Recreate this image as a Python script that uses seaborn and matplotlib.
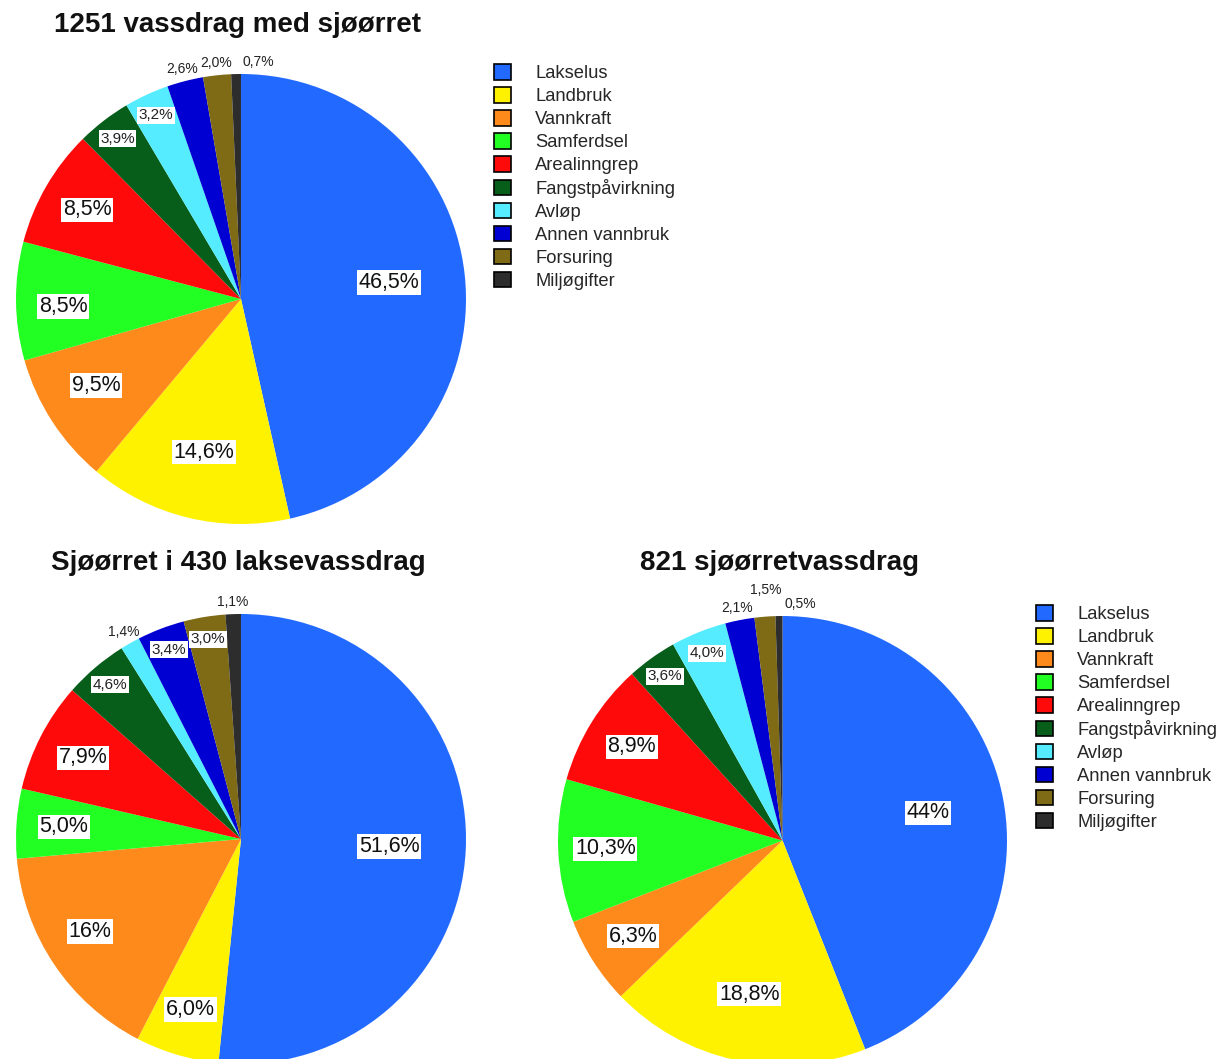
import numpy as np
import seaborn as sns
import matplotlib.pyplot as plt
from matplotlib.patches import Patch

categories = ["Lakselus", "Landbruk", "Vannkraft", "Samferdsel", "Arealinngrep",
              "Fangstpåvirkning", "Avløp", "Annen vannbruk", "Forsuring", "Miljøgifter"]

# percent shares per chart, in category order
all_values = [46.5, 14.6, 9.5, 8.5, 8.5, 3.9, 3.2, 2.6, 2.0, 0.7]
laks_values = [51.6, 6.0, 16.0, 5.0, 7.9, 4.6, 1.4, 3.4, 3.0, 1.1]
sjo_values = [44.0, 18.8, 6.3, 10.3, 8.9, 3.6, 4.0, 2.1, 1.5, 0.5]

all_labels = ["46,5%", "14,6%", "9,5%", "8,5%", "8,5%", "3,9%", "3,2%", "2,6%", "2,0%", "0,7%"]
laks_labels = ["51,6%", "6,0%", "16%", "5,0%", "7,9%", "4,6%", "1,4%", "3,4%", "3,0%", "1,1%"]
sjo_labels = ["44%", "18,8%", "6,3%", "10,3%", "8,9%", "3,6%", "4,0%", "2,1%", "1,5%", "0,5%"]

titles = ["1251 vassdrag med sjøørret", "Sjøørret i 430 laksevassdrag", "821 sjøørretvassdrag"]

colors = ["#226aff", "#fff200", "#ff8a1c", "#22ff22", "#ff0a0a",
          "#065e1a", "#55ecff", "#0000d2", "#7f6a16", "#2d2d2d"]

sns.set_style("white")
plt.rcParams['font.family'] = ['Liberation Sans', 'DejaVu Sans']

W, H = 1218, 1059
fig = plt.figure(figsize=(W / 100, H / 100), dpi=100)
fig.patch.set_facecolor("white")

# pie layout in pixels: centre x, centre y, radius, title x, title y
layout = [
    (241, 299, 225, 238, 25),
    (241, 839, 225, 238, 563),
    (782.5, 840.5, 224.5, 779, 563),
]

# small label tweaks (pixels, +x right, +y down) where Excel moved labels apart
nudges = {
    (0, "Miljøgifter"): (23, 0),
    (0, "Vannkraft"): (4, -10),
    (0, "Samferdsel"): (0, 6),
    (1, "Vannkraft"): (-20, 5),
    (2, "Miljøgifter"): (22, 0),
    (2, "Forsuring"): (2, -14),
}


def label_radius(pct):
    if pct < 3:
        return 1.055
    if pct < 5:
        return 0.90
    if pct < 12:
        return 0.79
    if pct < 40:
        return 0.70
    return 0.66


datasets = [(all_values, all_labels), (laks_values, laks_labels), (sjo_values, sjo_labels)]

for i, ((vals, labs), (cx, cy, r, tx, ty)) in enumerate(zip(datasets, layout)):
    ax = fig.add_axes([(cx - r) / W, 1 - (cy + r) / H, 2 * r / W, 2 * r / H])
    wedges, _ = ax.pie(vals, colors=colors, startangle=90, counterclock=False,
                       radius=1, wedgeprops=dict(linewidth=0))
    ax.set_xlim(-1, 1)
    ax.set_ylim(-1, 1)
    ax.set_aspect("equal")
    ax.axis("off")

    for w, v, lab, cat in zip(wedges, vals, labs, categories):
        mid = np.deg2rad((w.theta1 + w.theta2) / 2)
        rr = label_radius(v)
        x, y = rr * np.cos(mid), rr * np.sin(mid)
        dx, dy = nudges.get((i, cat), (0, 0))
        x += dx / r
        y -= dy / r
        if v < 3:
            ax.text(x, y, lab, ha="center", va="center", fontsize=10, color="#222222",
                    clip_on=False)
        elif v < 5:
            ax.text(x, y, lab, ha="center", va="center", fontsize=11, color="#222222",
                    bbox=dict(boxstyle="square,pad=0.1", fc="white", ec="none"))
        else:
            ax.text(x, y, lab, ha="center", va="center", fontsize=15.5, color="#111111",
                    bbox=dict(boxstyle="square,pad=0.08", fc="white", ec="none"))

    fig.text(tx / W, 1 - ty / H, titles[i], ha="center", va="center",
             fontsize=20, fontweight="bold", color="#111111")

handles = [Patch(facecolor=c, edgecolor="black", linewidth=1.2) for c in colors]
for lx, ly in [(494, 64), (1036, 605)]:
    fig.legend(handles, categories, loc="upper left",
               bbox_to_anchor=(lx / W, 1 - ly / H), frameon=False,
               fontsize=13.2, handlelength=0.95, handleheight=0.95,
               handletextpad=1.3, labelspacing=0.26, borderpad=0,
               borderaxespad=0)

fig.savefig("out.png", dpi=100, facecolor="white")
